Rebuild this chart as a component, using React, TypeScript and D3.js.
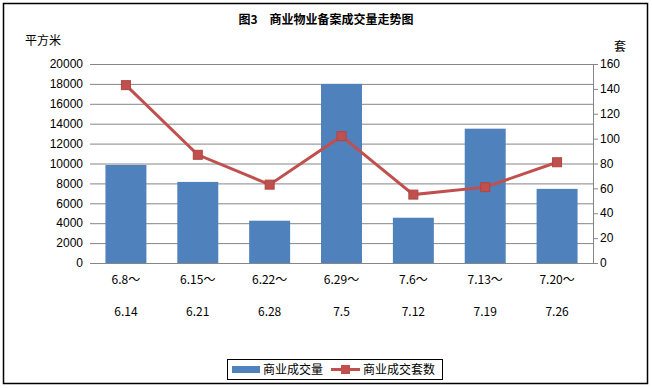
import { useMemo } from "react";
import * as d3 from "d3";

const periodsStart = ["6.8～", "6.15～", "6.22～", "6.29～", "7.6～", "7.13～", "7.20～"];
const periodsEnd = ["6.14", "6.21", "6.28", "7.5", "7.12", "7.19", "7.26"];
const area = [9850, 8150, 4250, 18000, 4550, 13500, 7450];
const units = [143, 87, 63, 102, 55, 61, 81];
const leftTicks = [0, 2000, 4000, 6000, 8000, 10000, 12000, 14000, 16000, 18000, 20000];
const rightTicks = [0, 20, 40, 60, 80, 100, 120, 140, 160];

const barColor = "#4F81BD";
const lineColor = "#C0504D";
const font = "'Liberation Sans', Arial, 'Noto Sans CJK SC', sans-serif";
const cjk = "'Noto Sans CJK SC', sans-serif";

export default function App() {
    const width = 652;
    const height = 388;
    const left = 90;
    const right = 593;
    const top = 64;
    const bottom = 263;

    const x = useMemo(
        () => d3.scaleBand<number>().domain(d3.range(area.length)).range([left, right]).paddingInner(0.43).paddingOuter(0.215),
        []
    );
    const yLeft = useMemo(() => d3.scaleLinear().domain([0, 20000]).range([bottom, top]), []);
    const yRight = useMemo(() => d3.scaleLinear().domain([0, 160]).range([bottom, top]), []);

    const cx = (i: number) => (x(i) ?? 0) + x.bandwidth() / 2;
    const linePath = d3.line<number>().x((_, i) => cx(i)).y((d) => yRight(d))(units) ?? "";

    return (
        <svg width={width} height={height} style={{ position: "absolute", left: 0, top: 0 }}>
            <rect x={0} y={0} width={width} height={height} fill="white" />
            <rect x={3.5} y={3.5} width={644} height={380} fill="none" stroke="black" strokeWidth={1.5} />

            <text x={326} y={24} textAnchor="middle" fontFamily={cjk} fontSize={12} fontWeight="bold">
                图3　商业物业备案成交量走势图
            </text>
            <text x={25} y={45} fontFamily={cjk} fontSize={12}>平方米</text>
            <text x={614} y={51} fontFamily={cjk} fontSize={12}>套</text>

            {leftTicks.map((t) => (
                <g key={`l-${t}`}>
                    <line x1={left} x2={right} y1={yLeft(t) + 0.5} y2={yLeft(t) + 0.5} stroke="#868686" />
                    <text x={83} y={yLeft(t)} dy="0.35em" textAnchor="end" fontFamily={font} fontSize={12}>{t}</text>
                </g>
            ))}

            <line x1={right + 0.5} x2={right + 0.5} y1={top} y2={bottom + 1} stroke="#868686" />
            {rightTicks.map((t) => (
                <g key={`r-${t}`}>
                    <line x1={right} x2={right + 5} y1={yRight(t) + 0.5} y2={yRight(t) + 0.5} stroke="#868686" />
                    <text x={600} y={yRight(t)} dy="0.35em" fontFamily={font} fontSize={12}>{t}</text>
                </g>
            ))}

            {area.map((v, i) => (
                <rect key={`b-${i}`} x={x(i)} y={yLeft(v)} width={x.bandwidth()} height={bottom - yLeft(v)} fill={barColor} />
            ))}

            <path d={linePath} fill="none" stroke={lineColor} strokeWidth={3} />
            {units.map((v, i) => (
                <rect key={`m-${i}`} x={cx(i) - 4.5} y={yRight(v) - 4.5} width={9} height={9} fill={lineColor} stroke="#B04542" />
            ))}

            {periodsStart.map((p, i) => (
                <text key={`s-${i}`} x={cx(i)} y={284} textAnchor="middle" fontFamily={cjk} fontSize={12}>{p}</text>
            ))}
            {periodsEnd.map((p, i) => (
                <text key={`e-${i}`} x={cx(i)} y={316} textAnchor="middle" fontFamily={cjk} fontSize={12}>{p}</text>
            ))}

            <rect x={227.5} y={359.5} width={215} height={20} fill="white" stroke="black" />
            <rect x={232} y={366} width={28} height={7} fill={barColor} />
            <text x={263} y={374} fontFamily={cjk} fontSize={12}>商业成交量</text>
            <line x1={331} x2={360} y1={369.5} y2={369.5} stroke={lineColor} strokeWidth={3} />
            <rect x={341} y={365} width={9} height={9} fill={lineColor} />
            <text x={363} y={374} fontFamily={cjk} fontSize={12}>商业成交套数</text>
        </svg>
    );
}
